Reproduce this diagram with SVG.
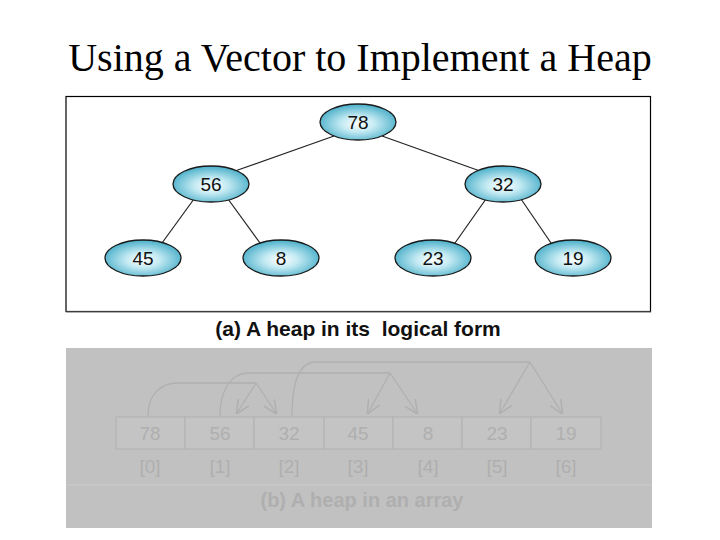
<svg xmlns="http://www.w3.org/2000/svg" width="720" height="540" viewBox="0 0 720 540">
<defs>
<radialGradient id="g" cx="50%" cy="55%" r="55%">
<stop offset="0" stop-color="#ffffff"/>
<stop offset="0.4" stop-color="#c4eaf3"/>
<stop offset="1" stop-color="#48aec8"/>
</radialGradient>
<marker id="ah" viewBox="0 0 10 10" refX="9" refY="5" markerWidth="14" markerHeight="14" orient="auto" markerUnits="userSpaceOnUse">
<path d="M0,0.5 L10,5 L0,9.5" fill="none" stroke="#b0b0b0" stroke-width="1.1"/>
</marker>
<style>
.n ellipse{fill:url(#g);stroke:#1a1a1a;stroke-width:1.3}
.n text{font-family:"Liberation Sans",Arial,sans-serif;font-size:19px;text-anchor:middle;fill:#111}
.e line{stroke:#222;stroke-width:1.2}
.cell{fill:#c4c4c4;stroke:#b4b4b4;stroke-width:1.2}
.ct{font-family:"Liberation Sans",Arial,sans-serif;font-size:19px;text-anchor:middle;fill:#afafaf}
.arc{fill:none;stroke:#b0b0b0;stroke-width:1.3}
</style>
</defs>
<rect width="720" height="540" fill="#ffffff"/>
<text x="360" y="71" font-family="Liberation Serif,'Times New Roman',serif" font-size="40" text-anchor="middle" fill="#000">Using a Vector to Implement a Heap</text>
<rect x="66" y="96.5" width="584.5" height="215" fill="#ffffff" stroke="#000" stroke-width="1.2"/>
<line x1="66" y1="312" x2="651" y2="312" stroke="#777" stroke-width="1.2"/>
<g id="connectors" class="e">
<line x1="334" y1="136" x2="235" y2="171"/>
<line x1="382" y1="136" x2="480" y2="171"/>
<line x1="194" y1="199" x2="162" y2="243"/>
<line x1="228" y1="199" x2="260" y2="243"/>
<line x1="486" y1="199" x2="455" y2="243"/>
<line x1="521" y1="199" x2="551" y2="243"/>
</g>
<g id="n78" class="n"><ellipse cx="358" cy="122" rx="38" ry="18"/><text x="358" y="129">78</text></g>
<g id="n56" class="n"><ellipse cx="211" cy="184" rx="38" ry="18"/><text x="211" y="191">56</text></g>
<g id="n32" class="n"><ellipse cx="503" cy="184" rx="38" ry="18"/><text x="503" y="191">32</text></g>
<g id="n45" class="n"><ellipse cx="143" cy="258" rx="38" ry="18"/><text x="143" y="265">45</text></g>
<g id="n8" class="n"><ellipse cx="281" cy="258" rx="38" ry="18"/><text x="281" y="265">8</text></g>
<g id="n23" class="n"><ellipse cx="433" cy="258" rx="38" ry="18"/><text x="433" y="265">23</text></g>
<g id="n19" class="n"><ellipse cx="573" cy="258" rx="38" ry="18"/><text x="573" y="265">19</text></g>
<text x="358" y="336" font-family="Liberation Sans,Arial,sans-serif" font-size="21" font-weight="bold" text-anchor="middle" fill="#111" style="white-space:pre">(a) A heap in its  logical form</text>
<rect x="66" y="348" width="586" height="180" fill="#c1c1c1"/>
<line x1="66" y1="485" x2="652" y2="485" stroke="#cbcbcb" stroke-width="1"/>
<g id="array">
<rect class="cell" x="116" y="417" width="69" height="32"/>
<rect class="cell" x="185" y="417" width="69" height="32"/>
<rect class="cell" x="254" y="417" width="70" height="32"/>
<rect class="cell" x="324" y="417" width="69" height="32"/>
<rect class="cell" x="393" y="417" width="69" height="32"/>
<rect class="cell" x="462" y="417" width="69" height="32"/>
<rect class="cell" x="531" y="417" width="70" height="32"/>
<text class="ct" x="150" y="440">78</text>
<text class="ct" x="220" y="440">56</text>
<text class="ct" x="289" y="440">32</text>
<text class="ct" x="358" y="440">45</text>
<text class="ct" x="428" y="440">8</text>
<text class="ct" x="497" y="440">23</text>
<text class="ct" x="566" y="440">19</text>
<text class="ct" x="150" y="473">[0]</text>
<text class="ct" x="220" y="473">[1]</text>
<text class="ct" x="289" y="473">[2]</text>
<text class="ct" x="358" y="473">[3]</text>
<text class="ct" x="428" y="473">[4]</text>
<text class="ct" x="497" y="473">[5]</text>
<text class="ct" x="566" y="473">[6]</text>
</g>
<g id="array-connectors">
<path class="arc" d="M148,416 C148,395 160,383 178,383 L256,383"/>
<path class="arc" d="M256,383 L237,413" marker-end="url(#ah)"/>
<path class="arc" d="M256,383 L276,413" marker-end="url(#ah)"/>
<path class="arc" d="M220,416 C220,392 230,373 248,373 L390,373"/>
<path class="arc" d="M390,373 L368,413" marker-end="url(#ah)"/>
<path class="arc" d="M390,373 L417,413" marker-end="url(#ah)"/>
<path class="arc" d="M292,416 C292,385 298,362 316,362 L530,362"/>
<path class="arc" d="M530,362 L500,413" marker-end="url(#ah)"/>
<path class="arc" d="M530,362 L562,413" marker-end="url(#ah)"/>
</g>
<text x="362" y="507" font-family="Liberation Sans,Arial,sans-serif" font-size="20" font-weight="bold" text-anchor="middle" fill="#afafaf">(b) A heap in an array</text>
</svg>
